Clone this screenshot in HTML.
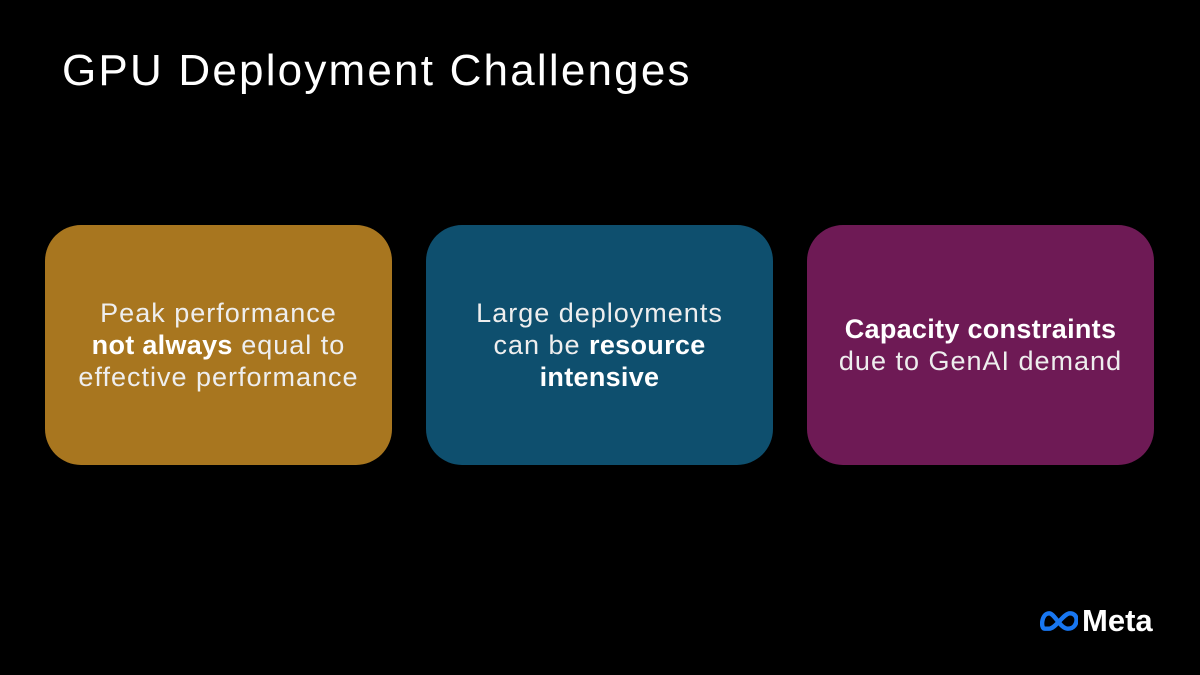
<!DOCTYPE html>
<html><head><style>
body{margin:0;width:1200px;height:675px;background:#000;position:relative;overflow:hidden;font-family:"Liberation Sans",sans-serif;color:#fff}
h1{position:absolute;left:62px;top:46px;margin:0;font-weight:normal;font-size:44px;letter-spacing:2.2px}
.b{position:absolute;top:225px;width:347px;height:240px;border-radius:36px;display:flex;align-items:center;justify-content:center;text-align:center;font-size:27px;line-height:32px;color:#eee;letter-spacing:1px}
.b b{color:#fff;letter-spacing:0.3px}
.logo{position:absolute;left:1040px;top:603px;font-weight:bold;font-size:31px;display:flex;align-items:center;gap:4px}
</style></head><body>
<h1>GPU Deployment Challenges</h1>
<div class="b" style="left:45px;background:#A8761F"><div>Peak performance<br><b>not always</b> equal to<br>effective performance</div></div>
<div class="b" style="left:426px;background:#0E4F6E"><div>Large deployments<br>can be <b>resource<br>intensive</b></div></div>
<div class="b" style="left:807px;background:#6E1A55"><div><b>Capacity constraints</b><br>due to GenAI demand</div></div>
<div class="logo"><svg width="38" height="22" viewBox="0 0 34 20"><path d="M4 17 C0 17 1 3 8 3 C13 3 18 17 25 17 C31 17 33 12 33 9 C33 5 30 3 27 3 C21 3 14 17 8 17 Z" fill="none" stroke="#1877F2" stroke-width="4"/></svg>Meta</div>
</body></html>
